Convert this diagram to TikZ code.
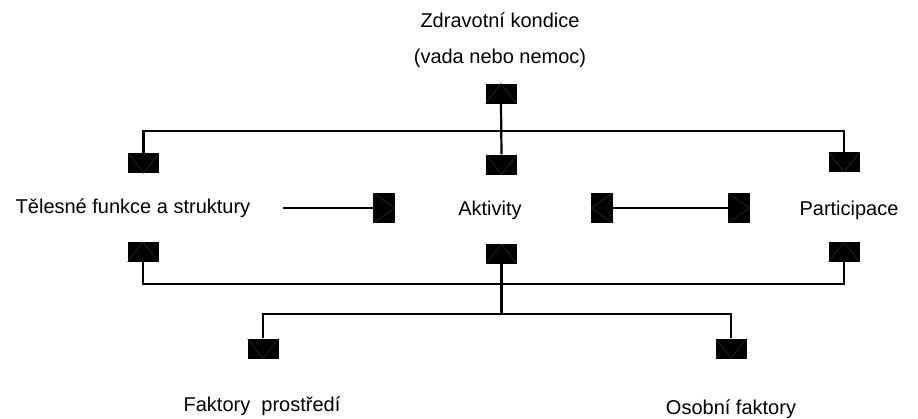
\documentclass[tikz,border=0pt]{standalone}
\usepackage{fontspec}
\setmainfont{Liberation Sans}
\begin{document}
\begin{tikzpicture}[x=1pt,y=-1pt,
  lbl/.style={inner sep=0pt, font=\fontsize{20}{24}\selectfont},
  conn/.style={line width=2.2pt, black},
  sq/.style={fill=black, draw=none, inner sep=0pt, minimum width=31pt, minimum height=20pt},
  sqh/.style={fill=black, draw=none, inner sep=0pt, minimum width=22pt, minimum height=30pt},
  chev/.style={draw=black!85, line width=0.7pt},
  sqdown/.style={sq, path picture={\draw[chev] (path picture bounding box.north west) -- (path picture bounding box.south) -- (path picture bounding box.north east);}},
  squp/.style={sq, path picture={\draw[chev] (path picture bounding box.south west) -- (path picture bounding box.north) -- (path picture bounding box.south east);}},
  sqright/.style={sqh, path picture={\draw[chev] (path picture bounding box.north west) -- (path picture bounding box.east) -- (path picture bounding box.south west);}},
  sqleft/.style={sqh, path picture={\draw[chev] (path picture bounding box.north east) -- (path picture bounding box.west) -- (path picture bounding box.south east);}}
]
\useasboundingbox (0,0) rectangle (918,418);

% texts
\node[lbl] (t1) at (500,20) {Zdravotní kondice};
\node[lbl] (t2) at (500,58) {(vada nebo nemoc)};
\node[lbl] (tel) at (133,208) {Tělesné funkce a struktury};
\node[lbl] (akt) at (490,210) {Aktivity};
\node[lbl] (par) at (849,210) {Participace};
\node[lbl] (fak) at (262,406) {Faktory\ \ prostředí};
\node[lbl] (oso) at (731,409) {Osobní faktory};

% top arrowheads
\node[squp] (top) at (501,93.5) {};
\node[sqdown] (dl) at (143.5,163) {};
\node[sqdown] (dc) at (501.5,164.5) {};
\node[sqdown] (dr) at (844,162) {};
\coordinate (j1) at (501,131);
\draw[conn] (top.south) -- (dc.north);
\draw[conn] (dl.north) |- (j1) -| (dr.north);

% middle arrows
\coordinate (a1) at (283,208);
\node[sqright] (ar1) at (384,208) {};
\draw[conn] (a1) -- (ar1.west);
\node[sqleft] (al2) at (602,208) {};
\node[sqright] (ar2) at (739,208) {};
\draw[conn] (al2.east) -- (ar2.west);

% lower arrowheads
\node[squp] (ul) at (143,252) {};
\node[squp] (uc) at (501.5,254) {};
\node[squp] (ur) at (844,252) {};
\coordinate (j2) at (501.5,284);
\coordinate (j3) at (501.5,314);
\draw[conn] (ul.south) |- (j2) -| (ur.south);
\draw[conn] (uc.south) -- (j3);

% bottom arrowheads
\node[sqdown] (bl) at (263,348.5) {};
\node[sqdown] (br) at (731,348.5) {};
\draw[conn] (bl.north) |- (j3) -| (br.north);
\end{tikzpicture}
\end{document}
